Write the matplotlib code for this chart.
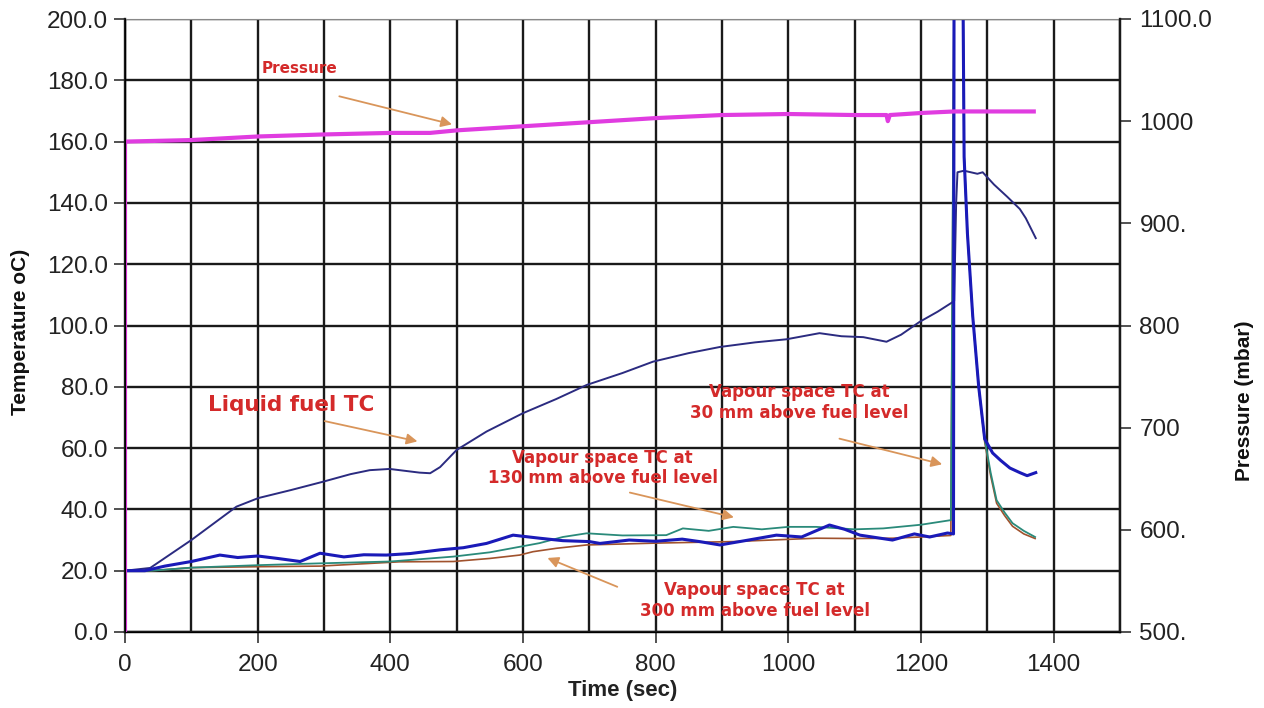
import matplotlib
matplotlib.use('Agg')
import matplotlib.pyplot as plt
from matplotlib import font_manager
from matplotlib.ticker import MultipleLocator

# --- data ---
pres_t = [0, 0, 100, 200, 300, 400, 460, 500, 600, 700, 800, 900, 1000, 1100,
          1148, 1150, 1153, 1200, 1250, 1370]
pres_v = [400, 980, 981.5, 985, 987, 988.5, 988.5, 991, 995, 999, 1003, 1006,
          1007, 1006, 1006, 1000, 1006, 1008, 1009.5, 1009.5]

liq_t = [0, 38, 100, 168, 201, 250, 298, 340, 369, 399, 444, 460, 475, 500, 545,
         600, 650, 696, 750, 796, 850, 897, 950, 997, 1047, 1080, 1113, 1148, 1170,
         1198, 1225, 1246, 1250, 1253, 1255, 1265, 1275, 1285, 1293, 1310, 1330,
         1349, 1358, 1373]
liq_v = [20, 20.9, 30, 40.9, 43.7, 46.3, 49, 51.5, 52.8, 53.2, 52, 51.8, 53.8, 59.4,
         65.4, 71.4, 76, 80.6, 84.5, 88.2, 91, 93, 94.5, 95.5, 97.5, 96.5, 96.2, 94.7,
         97, 101.2, 104.5, 107.4, 108, 140, 150, 150.5, 150, 149.5, 150, 146, 142,
         138, 135, 128.5]

v30_t = [0, 30, 60, 100, 143, 170, 200, 230, 264, 294, 330, 360, 394, 430, 475, 510,
         545, 585, 625, 660, 700, 716, 760, 800, 840, 866, 897, 940, 982, 1020, 1062,
         1085, 1108, 1157, 1190, 1213, 1240, 1249, 1250, 1262, 1265, 1270, 1278, 1287,
         1296, 1308, 1320, 1334, 1349, 1360, 1373]
v30_v = [20, 20, 21.5, 23, 25.1, 24.3, 24.8, 24, 23, 25.7, 24.5, 25.2, 25.1, 25.6,
         26.8, 27.5, 28.9, 31.6, 30.6, 29.8, 29.5, 28.9, 30, 29.6, 30.3, 29.5, 28.4,
         30, 31.6, 31, 34.9, 33.5, 31.6, 30, 32, 31, 32.3, 32, 250, 250, 155, 130, 103,
         80, 63, 58.4, 56, 53.5, 52, 51, 52]

v130_t = [0, 40, 100, 200, 294, 400, 495, 550, 595, 625, 660, 696, 750, 816, 841,
          880, 917, 960, 1000, 1042, 1100, 1143, 1200, 1245, 1251, 1262, 1265, 1270,
          1278, 1287, 1296, 1305, 1314, 1326, 1338, 1355, 1372]
v130_v = [20, 20, 21, 21.8, 22.4, 23, 24.6, 26, 27.8, 29, 31, 32.2, 31.5, 31.6, 33.8,
          33, 34.3, 33.5, 34.3, 34.3, 33.5, 33.8, 35, 36.5, 250, 250, 155, 130, 103,
          80, 63, 52, 43, 39, 35.5, 33, 31]

v300_t = [0, 40, 100, 200, 294, 414, 495, 550, 595, 615, 650, 696, 800, 917, 1042,
          1100, 1157, 1200, 1245, 1251, 1262, 1265, 1270, 1278, 1287, 1296, 1305, 1314,
          1326, 1338, 1355, 1372]
v300_v = [20, 20, 21, 21.3, 21.5, 22.9, 23, 24, 25.1, 26.2, 27.3, 28.4, 29, 29.5,
          30.6, 30.5, 30.6, 31, 31.5, 250, 250, 155, 130, 103, 80, 62, 51, 42, 38,
          34.5, 32, 30.5]

temp_ticks = [0, 20, 40, 60, 80, 100, 120, 140, 160, 180, 200]
pres_ticks = [500, 600, 700, 800, 900, 1000, 1100]
pres_labels = ['500.', '600.', '700', '800', '900.', '1000', '1100.0']
time_ticks = [0, 200, 400, 600, 800, 1000, 1200, 1400]

red = '#d42a2a'
arrow_c = '#d9955a'
grid_c = '#1a1a1a'


def bold_font(names):
    # pick a real bold, normal-width face file so no condensed face is used
    for name in names:
        for f in font_manager.fontManager.ttflist:
            if f.name == name and f.weight in (700, 'bold') and f.style == 'normal' \
                    and f.stretch in ('normal', 500) and 'ondensed' not in f.fname:
                return font_manager.FontProperties(fname=f.fname)
    return font_manager.FontProperties(family='DejaVu Sans', weight='bold')


ann_fp = bold_font(['DejaVu Sans', 'Noto Sans', 'Lato', 'Roboto'])

fig = plt.figure(figsize=(12.64, 7.08), dpi=100, facecolor='white')
ax = fig.add_axes([125 / 1264, 76 / 708, 995 / 1264, 613 / 708])
ax2 = ax.twinx()

ax.set_xlim(0, 1500)
ax.set_ylim(0, 200)
ax2.set_ylim(500, 1100)

ax.xaxis.set_minor_locator(MultipleLocator(100))
ax.set_xticks(time_ticks)
ax.set_yticks(temp_ticks)
ax.set_yticklabels(['%.1f' % v for v in temp_ticks])
ax2.set_yticks(pres_ticks)
ax2.set_yticklabels(pres_labels)

ax.grid(True, which='both', color=grid_c, lw=1.7)
ax.set_axisbelow(True)
ax.spines['top'].set_color('#888888')
ax2.spines['top'].set_visible(False)
ax.spines['left'].set_color(grid_c)
ax.spines['bottom'].set_color(grid_c)
ax2.spines['right'].set_color(grid_c)
ax.spines['left'].set_linewidth(1.7)
ax.spines['bottom'].set_linewidth(1.7)
ax2.spines['right'].set_linewidth(1.7)

tick_family = ['Liberation Sans', 'DejaVu Sans']
ax.tick_params(axis='both', which='major', length=8, width=1.2, color='#333333',
               labelcolor='#222222', pad=4)
ax.tick_params(axis='x', which='minor', length=0)
ax.tick_params(axis='x', pad=8)
ax2.tick_params(axis='y', length=8, width=1.2, color='#333333', labelcolor='#222222',
                pad=6)
for lab in ax.get_xticklabels() + ax.get_yticklabels() + ax2.get_yticklabels():
    lab.set_fontfamily(tick_family)
    lab.set_fontsize(17.5)

# series
ax.plot(v300_t, v300_v, color='#a0522d', lw=1.2)
ax.plot(v130_t, v130_v, color='#2a8a7a', lw=1.3)
ax.plot(liq_t, liq_v, color='#2b2b80', lw=1.4)
ax.plot(v30_t, v30_v, color='#1a1ab8', lw=2.2)
ax2.plot(pres_t, pres_v, color='#e03ce0', lw=3)

ax.set_xlabel('Time (sec)', fontsize=16, fontweight='bold', family=tick_family,
              color='#222222')
ax.set_ylabel('Temperature oC)', fontsize=15, fontweight='bold', family=tick_family,
              color='#111111')
ax.yaxis.set_label_coords(-0.0955, 0.49)
ax.xaxis.set_label_coords(0.5, -0.078)
ax2.set_ylabel('Pressure (mbar)', fontsize=15, fontweight='bold', family=tick_family,
               color='#111111', rotation=90)
ax2.yaxis.set_label_coords(1.116, 0.378)


def note(x, y, s, size, **kw):
    fp = ann_fp.copy()
    fp.set_size(size)
    ax.text(x, y, s, color=red, fontproperties=fp, **kw)


arw = dict(arrowstyle='-|>', color=arrow_c, lw=1.3, mutation_scale=16)

note(206, 184, 'Pressure', 11, ha='left', va='center')
ax.annotate('', xy=(497, 165.4), xytext=(319, 175), arrowprops=arw)

note(125, 74, 'Liquid fuel TC', 15.5, ha='left', va='center')
ax.annotate('', xy=(445, 62), xytext=(297, 69), arrowprops=arw)

note(720, 53.5, 'Vapour space TC at\n130 mm above fuel level', 12,
     ha='center', va='center', linespacing=1.2)
ax.annotate('', xy=(922, 37.2), xytext=(757, 45.7), arrowprops=arw)

note(949, 10.4, 'Vapour space TC at\n300 mm above fuel level', 12,
     ha='center', va='center', linespacing=1.2)
ax.annotate('', xy=(633, 24.5), xytext=(746, 14.4), arrowprops=arw)

note(1017, 75, 'Vapour space TC at\n30 mm above fuel level', 12,
     ha='center', va='center', linespacing=1.2)
ax.annotate('', xy=(1236, 54.5), xytext=(1073, 63.3), arrowprops=arw)

fig.savefig('out.png', dpi=100, facecolor='white')
